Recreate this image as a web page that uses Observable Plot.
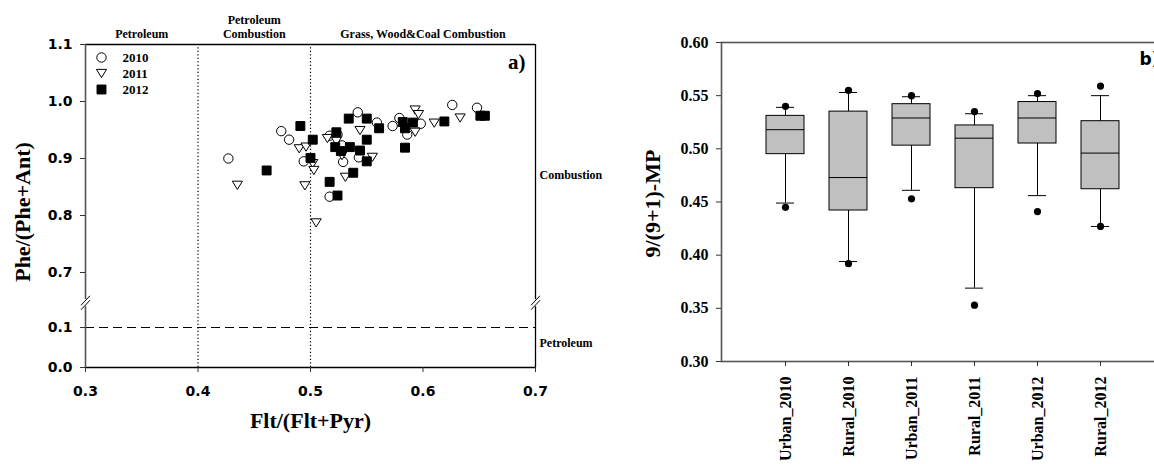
<!DOCTYPE html>
<html><head><meta charset="utf-8">
<script src="https://cdn.jsdelivr.net/npm/d3@7"></script>
<script src="https://cdn.jsdelivr.net/npm/@observablehq/plot@0.6"></script>
<style>
html,body{margin:0;padding:0;background:#fff;overflow:hidden;}
#root{position:relative;width:1154px;height:464px;overflow:hidden;background:#fff;}
#root > svg{position:absolute;}
</style></head><body><div id="root"></div>
<script>
// ---------- Panel a data ----------
const years = ["2010", "2011", "2012"];
const flt2010 = [0.427,0.474,0.481,0.494,0.517,0.524,0.528,0.529,0.517,0.543,0.542,0.559,0.573,0.579,0.586,0.598,0.626,0.648];
const phe2010 = [0.900,0.948,0.933,0.895,0.940,0.942,0.923,0.894,0.833,0.902,0.981,0.963,0.957,0.971,0.942,0.961,0.994,0.989];
const flt2011 = [0.435,0.490,0.496,0.502,0.503,0.495,0.505,0.515,0.523,0.528,0.531,0.544,0.555,0.593,0.596,0.593,0.610,0.633];
const phe2011 = [0.853,0.917,0.920,0.891,0.879,0.852,0.787,0.935,0.930,0.905,0.867,0.949,0.902,0.985,0.977,0.946,0.962,0.971];
const flt2012 = [0.461,0.491,0.502,0.500,0.517,0.524,0.538,0.523,0.522,0.527,0.535,0.544,0.550,0.550,0.534,0.550,0.561,0.582,0.584,0.584,0.591,0.619,0.651,0.655];
const phe2012 = [0.879,0.957,0.933,0.901,0.859,0.835,0.875,0.946,0.920,0.913,0.920,0.914,0.895,0.933,0.970,0.970,0.953,0.964,0.953,0.919,0.963,0.965,0.975,0.975];
const regionBounds = [0.3, 0.4, 0.5, 0.7];
const regionLabels = ["Petroleum", "Petroleum\nCombustion", "Grass, Wood&Coal Combustion"];
const sideLabels = ["Combustion", "Petroleum"];
const sideLabelY = [0.87, 0.06];
const petroleumThreshold = 0.1;
const xTicksA = [0.3, 0.4, 0.5, 0.6, 0.7];
const yTicksA = [0.0, 0.1, 0.7, 0.8, 0.9, 1.0, 1.1];
const yBreakDomain = [0, 0.1, 0.7, 1.1];
const yBreak = 0.37;

// ---------- Panel b data ----------
const groups = ["Urban_2010","Rural_2010","Urban_2011","Rural_2011","Urban_2012","Rural_2012"];
const q1 = [0.495,0.442,0.503,0.463,0.505,0.462];
const median = [0.518,0.473,0.529,0.510,0.529,0.496];
const q3 = [0.531,0.535,0.542,0.522,0.544,0.526];
const whiskerLow = [0.449,0.394,0.461,0.369,0.456,0.427];
const whiskerHigh = [0.539,0.553,0.549,0.533,0.550,0.550];
const outlierLow = [0.445,0.392,0.453,0.353,0.441,0.427];
const outlierHigh = [0.540,0.555,0.550,0.535,0.552,0.559];
const yTicksB = [0.30,0.35,0.40,0.45,0.50,0.55,0.60];

// ---------- helpers ----------
const SERIF = "'Liberation Serif','Times New Roman',Times,serif";
const SANS = "'DejaVu Sans','Liberation Sans',Arial,sans-serif";
const triDown = {draw(ctx, size){ const r = Math.sqrt(size/Math.PI); const a = r*1.08, h = r*1.75;
  ctx.moveTo(-a, -h/2); ctx.lineTo(a, -h/2); ctx.lineTo(0, h/2); ctx.closePath(); }};
const squareSym = {draw(ctx, size){ const r = Math.sqrt(size/Math.PI); const s = r*0.95;
  ctx.rect(-s, -s, 2*s, 2*s); }};
const gapSym = {draw(ctx){ ctx.rect(-2, -3.5, 4, 7); }};
const slashSym = {draw(ctx){ ctx.moveTo(-4.5, 2.5); ctx.lineTo(4.5, -7); ctx.moveTo(-4.5, 7); ctx.lineTo(4.5, -2.5); }};
const symbolRange = [d3.symbolCircle, triDown, squareSym];
const fillRange = ["white", "white", "black"];

const fltAll = [flt2010, flt2011, flt2012], pheAll = [phe2010, phe2011, phe2012];
const points = years.flatMap((yr, i) => fltAll[i].map((x, j) => ({year: yr, flt: x, phe: pheAll[i][j]})));
const regions = regionLabels.map((label, i) => ({label, mid: (regionBounds[i] + regionBounds[i+1]) / 2}));
const sides = sideLabels.map((label, i) => ({label, y: sideLabelY[i]}));
const xMin = regionBounds[0], xMax = regionBounds[regionBounds.length - 1];
const yMin = yBreakDomain[0], yMax = yBreakDomain[yBreakDomain.length - 1];

const plotA = Plot.plot({
  width: 640, height: 464,
  marginLeft: 85, marginRight: 105, marginTop: 44, marginBottom: 97,
  x: {type: "linear", domain: [xMin, xMax], range: [85, 535]},
  y: {type: "linear", domain: yBreakDomain, range: [367, 327, 272, 44]},
  symbol: {domain: years, range: symbolRange},
  color: {domain: years, range: fillRange},
  style: {fontFamily: SERIF, background: "white", overflow: "visible"},
  marks: [
    Plot.ruleX(regionBounds.slice(1, -1), {y1: yMin, y2: yMax, stroke: "black", strokeDasharray: "1.2,2.3", strokeWidth: 1.2}),
    Plot.ruleY([petroleumThreshold], {x1: xMin, x2: xMax, stroke: "black", strokeDasharray: "9,5", strokeWidth: 1}),
    Plot.ruleY([yMin, yMax], {x1: xMin, x2: xMax, stroke: "black", strokeWidth: 1.3}),
    Plot.ruleX([xMin], {y1: yMin, y2: yMax, stroke: "#555", strokeWidth: 1.6}),
    Plot.ruleX([xMax], {y1: yMin, y2: yMax, stroke: "black", strokeWidth: 1.3}),
    Plot.dot([xMin, xMax], {x: d => d, y: () => yBreak, symbol: gapSym, fill: "white", stroke: "none"}),
    Plot.dot([xMin, xMax], {x: d => d, y: () => yBreak, symbol: slashSym, fill: "none", stroke: "black", strokeWidth: 1}),
    Plot.axisX({ticks: xTicksA, tickFormat: ".1f", tickSize: 5, tickPadding: 14, label: null,
      fontFamily: SANS, fontWeight: "bold", fontSize: 14, stroke: "#333"}),
    Plot.axisY({ticks: yTicksA, tickFormat: ".1f", tickSize: 5, tickPadding: 8, label: null,
      fontFamily: SANS, fontWeight: "bold", fontSize: 14, stroke: "#333"}),
    Plot.dot(points, {x: "flt", y: "phe", symbol: "year", fill: "year", stroke: "black", strokeWidth: 1, r: 4.7}),
    Plot.text(regions, {x: "mid", text: "label", frameAnchor: "top", dy: -7, lineAnchor: "bottom",
      fontFamily: SERIF, fontWeight: "bold", fontSize: 12, lineHeight: 1.12}),
    Plot.text(sides, {x: () => xMax, y: "y", text: "label", textAnchor: "start", dx: 4,
      fontFamily: SERIF, fontWeight: "bold", fontSize: 12}),
    Plot.text(["a)"], {frameAnchor: "top-right", dx: -10, dy: 10, lineAnchor: "top", text: d => d,
      fontFamily: SERIF, fontWeight: "bold", fontSize: 21}),
    Plot.text(["Phe/(Phe+Ant)"], {frameAnchor: "left", textAnchor: "middle", dx: -63, dy: 6, rotate: -90, text: d => d,
      fontFamily: SERIF, fontWeight: "bold", fontSize: 22}),
    Plot.text(["Flt/(Flt+Pyr)"], {frameAnchor: "bottom", dy: 60, text: d => d,
      fontFamily: SERIF, fontWeight: "bold", fontSize: 22})
  ]
});
plotA.style.left = "0px"; plotA.style.top = "0px";

const legend = Plot.plot({
  width: 60, height: 50, margin: 0,
  y: {domain: years, type: "point", range: [9, 41], padding: 0, axis: null},
  symbol: {domain: years, range: symbolRange},
  color: {domain: years, range: fillRange},
  style: {background: "transparent", overflow: "visible"},
  marks: [
    Plot.dot(years, {y: d => d, frameAnchor: "left", dx: 11, symbol: d => d, fill: d => d, stroke: "black", strokeWidth: 1, r: 4.7}),
    Plot.text(years, {y: d => d, frameAnchor: "left", dx: 32, text: d => d, textAnchor: "start",
      fontFamily: SERIF, fontWeight: "bold", fontSize: 13})
  ]
});
legend.style.left = "90px"; legend.style.top = "48px";

const boxes = groups.map((g, i) => ({group: g, q1: q1[i], med: median[i], q3: q3[i], lo: whiskerLow[i], hi: whiskerHigh[i]}));
const outliers = groups.flatMap((g, i) => [{group: g, v: outlierLow[i]}, {group: g, v: outlierHigh[i]}]);

const plotB = Plot.plot({
  width: 540, height: 464,
  marginLeft: 81, marginRight: 17, marginTop: 42, marginBottom: 103,
  x: {domain: groups, type: "band", paddingInner: 0.4, paddingOuter: 0.7, label: null},
  y: {domain: [yTicksB[0], yTicksB[yTicksB.length - 1]], label: null},
  style: {fontFamily: SERIF, background: "transparent", overflow: "visible"},
  marks: [
    Plot.frame({stroke: "#555", strokeWidth: 1.6}),
    Plot.ruleX(boxes, {x: "group", y1: "q3", y2: "hi", stroke: "black"}),
    Plot.ruleX(boxes, {x: "group", y1: "lo", y2: "q1", stroke: "black"}),
    Plot.tickY(boxes, {x: "group", y: "hi", insetLeft: 10, insetRight: 10, stroke: "black"}),
    Plot.tickY(boxes, {x: "group", y: "lo", insetLeft: 10, insetRight: 10, stroke: "black"}),
    Plot.barY(boxes, {x: "group", y1: "q1", y2: "q3", fill: "#c0c0c0", stroke: "black", strokeWidth: 1}),
    Plot.tickY(boxes, {x: "group", y: "med", stroke: "black", strokeWidth: 1}),
    Plot.dot(outliers, {x: "group", y: "v", r: 3.6, fill: "black"}),
    Plot.axisY({ticks: yTicksB, tickFormat: ".2f", tickSize: 5, tickPadding: 8, label: null,
      fontFamily: SERIF, fontWeight: "bold", fontSize: 16, stroke: "#333"}),
    Plot.axisX({tickRotate: -90, tickSize: 5, tickPadding: 10, label: null,
      fontFamily: SERIF, fontWeight: "bold", fontSize: 16, stroke: "#333"}),
    Plot.text(["b)"], {frameAnchor: "top-right", dx: -4, dy: 10, lineAnchor: "top", text: d => d,
      fontFamily: SANS, fontWeight: "bold", fontSize: 17}),
    Plot.text(["9/(9+1)-MP"], {frameAnchor: "bottom-left", textAnchor: "start", lineAnchor: "middle", dx: -69, dy: -104, rotate: -90, text: d => d,
      fontFamily: SERIF, fontWeight: "bold", fontSize: 22})
  ]
});
plotB.style.left = "640px"; plotB.style.top = "0px";

const root = document.getElementById("root");
root.append(plotA, legend, plotB);
</script>
</body></html>
